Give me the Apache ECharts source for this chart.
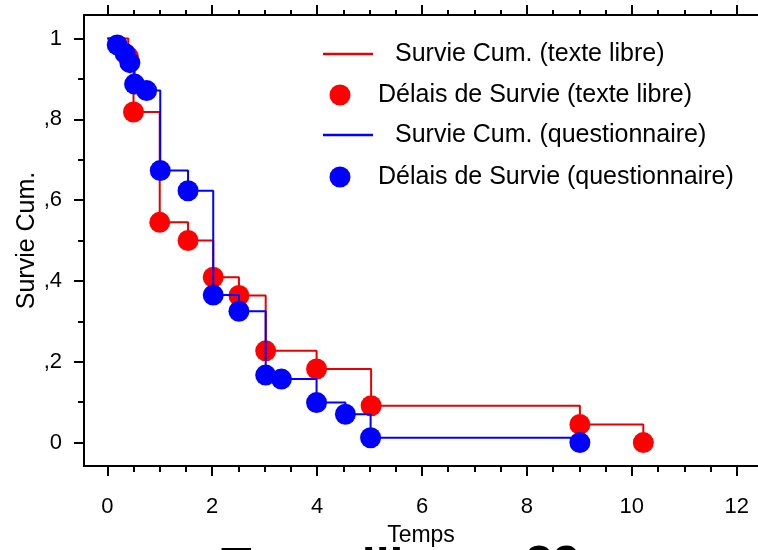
<!DOCTYPE html>
<html><head><meta charset="utf-8">
<script src="https://cdn.jsdelivr.net/npm/echarts@6/dist/echarts.min.js"></script>
<style>html,body{margin:0;padding:0;background:#fff}#c{width:758px;height:550px}</style>
</head><body><div id="c"></div>
<script>
// ---- data ----
const redTimes  = [0, 0.40, 0.50, 1.00, 1.54, 2.02, 2.51, 3.02, 3.99, 5.03, 9.01, 10.22];
const redSurv   = [1, 0.955, 0.818, 0.545, 0.500, 0.409, 0.364, 0.227, 0.182, 0.091, 0.045, 0];
const blueTimes = [0, 0.19, 0.34, 0.43, 0.52, 0.75, 1.01, 1.54, 2.02, 2.51, 3.02, 3.32, 3.99, 4.54, 5.02, 9.01];
const blueSurv  = [1, 0.984, 0.963, 0.940, 0.887, 0.871, 0.673, 0.623, 0.365, 0.325, 0.167, 0.157, 0.099, 0.070, 0.012, 0];
const seriesNames = ['Survie Cum. (texte libre)', 'Délais de Survie (texte libre)', 'Survie Cum. (questionnaire)', 'Délais de Survie (questionnaire)'];
const xMajorTicks = [0, 2, 4, 6, 8, 10, 12];
const xMinorTicks = [0.5, 1, 1.5, 2.5, 3, 3.5, 4.5, 5, 5.5, 6.5, 7, 7.5, 8.5, 9, 9.5, 10.5, 11, 11.5];
const yMajorTicks = [0, 0.2, 0.4, 0.6, 0.8, 1];
const yTickLabels = ['0', ',2', ',4', ',6', ',8', '1'];
const yMinorTicks = [0.1, 0.3, 0.5, 0.7, 0.9];
const xAxisTitle = 'Temps';
const yAxisTitle = 'Survie Cum.';
const bottomTitleA = 'Texte libre';
const bottomTitleB = '29';

// ---- layout / style ----
const FONT = "'Liberation Sans', Arial, sans-serif";
const X_MIN = -0.444, X_MAX = 12.406;
const Y_MIN = -0.058, Y_MAX = 1.058;
const RED = '#ff0000', RED_LINE = '#e60000', BLUE = '#0000ff';
const LINE_ICON = 'path://M0,0H50V2.4H0Z';

const zip = (t, s) => t.map((v, i) => [v, s[i]]);
const redLine = zip(redTimes, redSurv);
const redPts = redLine.slice(1);
const blueLine = zip(blueTimes, blueSurv);
const bluePts = blueLine.slice(1);

const blackLine = {color: '#000', width: 2};
function xAx(pos, ticks, len, opts) {
  return Object.assign({
    type: 'value', position: pos, min: X_MIN, max: X_MAX,
    axisLine: {show: false, onZero: false},
    axisTick: {show: true, customValues: ticks, length: len, inside: false, lineStyle: {color: '#000', width: 2}},
    axisLabel: {show: false},
    splitLine: {show: false}, minorTick: {show: false}
  }, opts || {});
}
function yAx(ticks, len, opts) {
  return Object.assign({
    type: 'value', position: 'left', min: Y_MIN, max: Y_MAX,
    axisLine: {show: false, onZero: false},
    axisTick: {show: true, customValues: ticks, length: len, inside: false, lineStyle: {color: '#000', width: 2}},
    axisLabel: {show: false},
    splitLine: {show: false}, minorTick: {show: false}
  }, opts || {});
}

const chart = echarts.init(document.getElementById('c'), null, {renderer: 'canvas'});
chart.setOption({
  animation: false,
  backgroundColor: '#fff',
  textStyle: {fontFamily: FONT},
  title: [
    {text: bottomTitleA, left: 216, top: 539, padding: 5,
     textStyle: {fontFamily: FONT, fontSize: 50, fontWeight: 'bold', color: '#000'}},
    {text: bottomTitleB, left: 520, top: 537, padding: 5,
     textStyle: {fontFamily: FONT, fontSize: 50, fontWeight: 'bold', color: '#000'}}
  ],
  grid: {left: 84, right: 0, top: 15, bottom: 84, containLabel: false, outerBoundsMode: 'none'},
  legend: [
    {data: [{name: seriesNames[0], icon: LINE_ICON}, {name: seriesNames[2], icon: LINE_ICON}],
     orient: 'vertical', left: 323, top: 41.5, padding: 0,
     itemWidth: 50, itemHeight: 21, itemGap: 56,
     textStyle: {fontFamily: FONT, fontSize: 25, color: '#000', lineHeight: 25, padding: [0, 0, 0, 17]}},
    {data: [{name: seriesNames[1], icon: 'circle'}, {name: seriesNames[3], icon: 'circle'}],
     orient: 'vertical', left: 329.5, top: 82.5, padding: 0,
     itemWidth: 66, itemHeight: 21, itemGap: 57,
     textStyle: {fontFamily: FONT, fontSize: 25, color: '#000', lineHeight: 25}}
  ],
  xAxis: [
    xAx('bottom', xMajorTicks, 10, {
      axisLine: {show: true, onZero: false, lineStyle: blackLine},
      axisLabel: {show: true, customValues: xMajorTicks, margin: 30, fontSize: 22, color: '#000', fontFamily: FONT},
      name: xAxisTitle, nameLocation: 'middle', nameGap: 58, nameMoveOverlap: false,
      nameTextStyle: {fontSize: 23, color: '#000', fontFamily: FONT}
    }),
    xAx('bottom', xMinorTicks, 6),
    xAx('top', xMajorTicks, 10, {axisLine: {show: true, onZero: false, lineStyle: blackLine}}),
    xAx('top', xMinorTicks, 5)
  ],
  yAxis: [
    yAx(yMajorTicks, 10, {
      axisLine: {show: true, onZero: false, lineStyle: blackLine},
      axisLabel: {show: true, customValues: yMajorTicks, margin: 22, fontSize: 22, color: '#000', fontFamily: FONT,
        formatter: v => { const i = yMajorTicks.findIndex(t => Math.abs(t - v) < 1e-6); return i >= 0 ? yTickLabels[i] : ''; }},
      name: yAxisTitle, nameLocation: 'middle', nameGap: 44, nameMoveOverlap: false,
      nameTextStyle: {fontSize: 25, color: '#000', fontFamily: FONT}
    }),
    yAx(yMinorTicks, 6)
  ],
  series: [
    {name: seriesNames[0], type: 'line', step: 'end', data: redLine, xAxisIndex: 0, yAxisIndex: 0,
     symbol: 'none', showSymbol: false, lineStyle: {color: RED_LINE, width: 2}, itemStyle: {color: RED_LINE}, z: 2},
    {name: seriesNames[1], type: 'scatter', data: redPts, xAxisIndex: 0, yAxisIndex: 0,
     symbol: 'circle', symbolSize: 21, itemStyle: {color: RED, opacity: 1}, z: 3},
    {name: seriesNames[2], type: 'line', step: 'end', data: blueLine, xAxisIndex: 0, yAxisIndex: 0,
     symbol: 'none', showSymbol: false, lineStyle: {color: BLUE, width: 2}, itemStyle: {color: BLUE}, z: 4},
    {name: seriesNames[3], type: 'scatter', data: bluePts, xAxisIndex: 0, yAxisIndex: 0,
     symbol: 'circle', symbolSize: 21, itemStyle: {color: BLUE, opacity: 1}, z: 5}
  ]
});
</script>
</body></html>
